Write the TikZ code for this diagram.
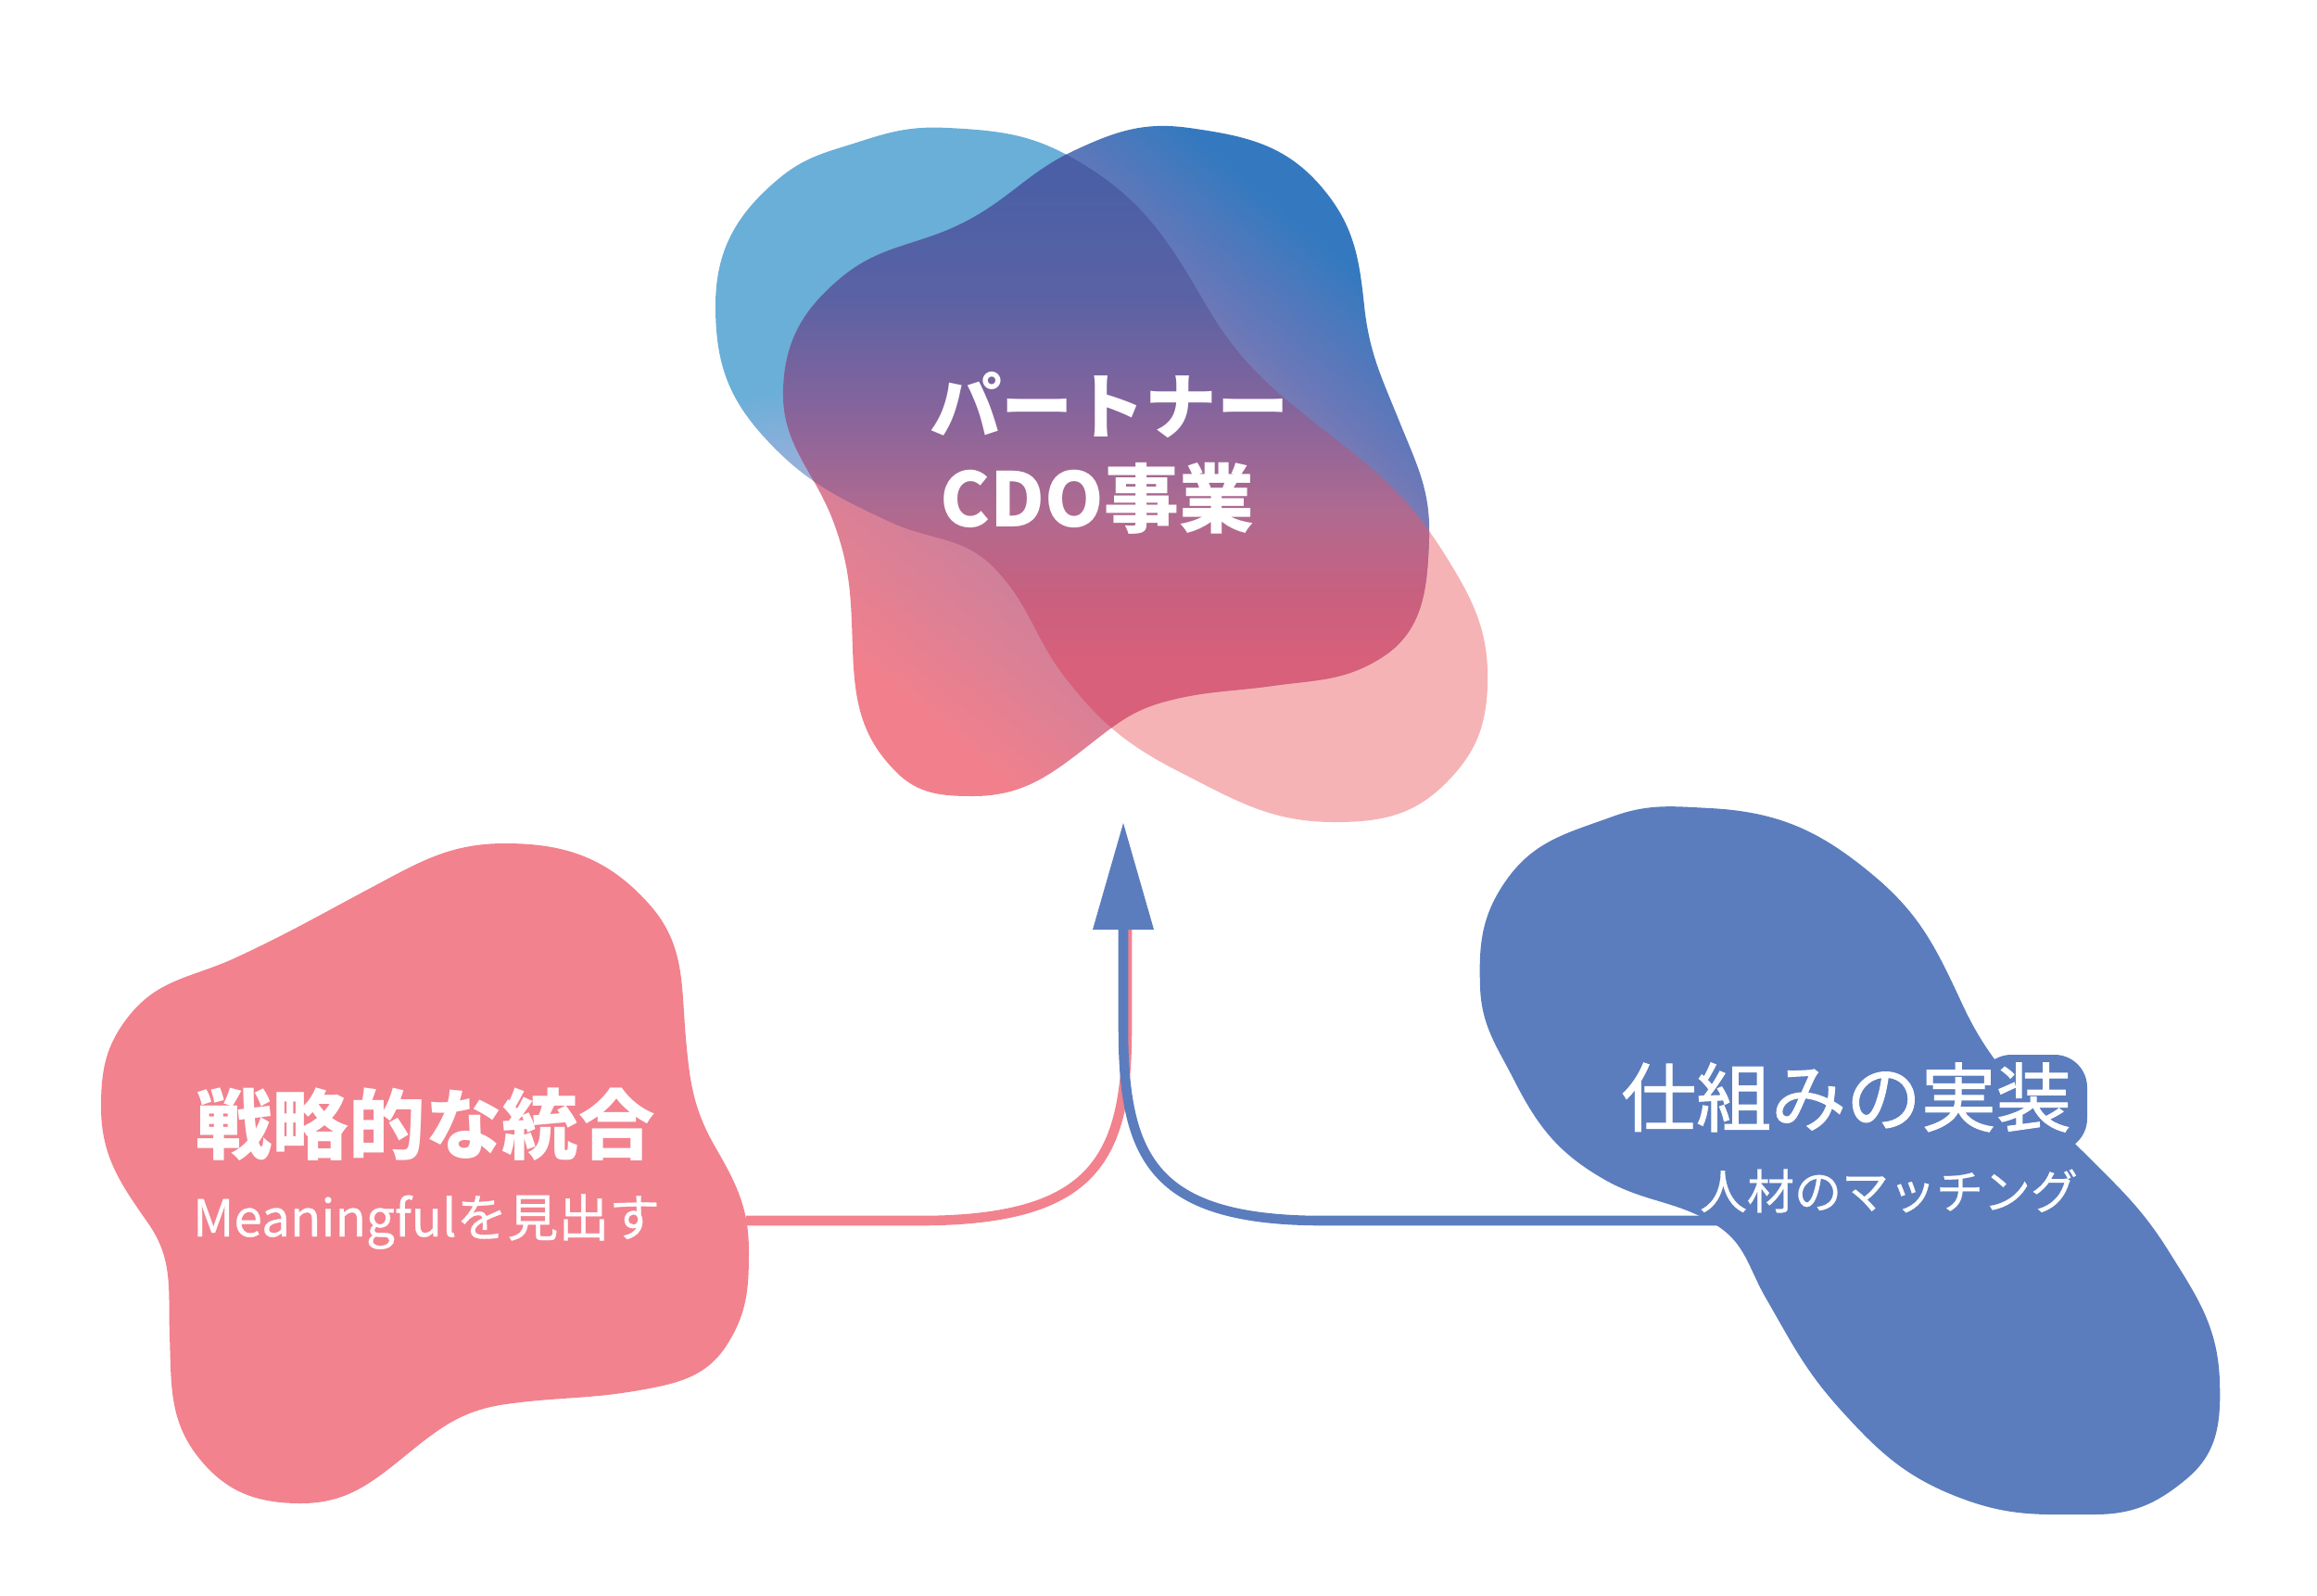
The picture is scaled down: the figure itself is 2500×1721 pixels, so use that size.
\documentclass[tikz,border=0pt]{standalone}
\usepackage{fontspec}
\setmainfont{Noto Sans CJK JP}
\newfontfamily\jpmedium{Noto Sans CJK JP}[FakeBold=1.2]
\newfontfamily\jpbook{Noto Sans CJK JP}[FakeBold=0.6]
\usetikzlibrary{arrows.meta}

\definecolor{blobpink}{HTML}{F2828E}
\definecolor{blobblue}{HTML}{5B7DBE}
\definecolor{skyblue}{HTML}{69AFD8}
\definecolor{palepink}{HTML}{F6B3B6}
\definecolor{lilac}{HTML}{A8B0DA}
\definecolor{deepblue}{HTML}{3479BF}
\definecolor{rosepink}{HTML}{F2808C}
\definecolor{mauve}{HTML}{9A80B0}

% blue blob: sky blue on top, pale pink below
\pgfdeclareverticalshading{skyfade}{100bp}{color(0bp)=(palepink); color(46bp)=(palepink);
  color(52bp)=(lilac); color(60bp)=(skyblue); color(100bp)=(skyblue)}
% pink blob: deep blue at the upper right, rose at the lower left
\pgfdeclareverticalshading{rosefade}{100bp}{color(0bp)=(rosepink); color(26bp)=(rosepink);
  color(57bp)=(mauve); color(64bp)=(rgb,255:red,106;green,120;blue,184); color(73bp)=(deepblue);
  color(100bp)=(deepblue)}
% where the two blobs overlap
\pgfdeclareverticalshading{mixfade}{100bp}{color(0bp)=(rgb,255:red,218;green,95;blue,120);
  color(35bp)=(rgb,255:red,216;green,96;blue,122); color(40bp)=(rgb,255:red,200;green,96;blue,127);
  color(46bp)=(rgb,255:red,176;green,106;blue,144); color(54bp)=(rgb,255:red,132;green,100;blue,156);
  color(62bp)=(rgb,255:red,90;green,98;blue,164); color(71bp)=(rgb,255:red,74;green,95;blue,166);
  color(100bp)=(rgb,255:red,70;green,92;blue,166)}

\newcommand{\blueblob}{(1023,138) to[out=357,in=150] (1160,172) to[out=330,in=120] (1300,327)
  to[out=300,in=142] (1440,473) to[out=322,in=122] (1560,600) to[out=302,in=88] (1605,740)
  to[out=268,in=45] (1560,845) to[out=225,in=0] (1440,887) to[out=180,in=333] (1273,833)
  to[out=153,in=308] (1150,732) to[out=128,in=314] (1073,613) to[out=134,in=335] (960,563)
  to[out=155,in=312] (823,470) to[out=132,in=270] (772,330) to[out=90,in=220] (840,193)
  to[out=40,in=198] (930,152) to[out=18,in=177] (1023,138) -- cycle}
\newcommand{\pinkblob}{(1283,138) to[out=352,in=130] (1427,203) to[out=310,in=96] (1472,330)
  to[out=276,in=112] (1510,455) to[out=292,in=88] (1542,580) to[out=268,in=32] (1490,710)
  to[out=212,in=8] (1373,740) to[out=188,in=15] (1257,757) to[out=195,in=38] (1180,800)
  to[out=218,in=0] (1050,859) to[out=180,in=315] (967,833) to[out=135,in=272] (920,700)
  to[out=92,in=290] (900,565) to[out=110,in=268] (845,420) to[out=88,in=220] (907,300)
  to[out=40,in=207] (1040,240) to[out=27,in=205] (1160,162) to[out=25,in=172] (1283,138) -- cycle}

\tikzset{
  bigbold/.style={text=white,inner sep=0pt,font=\fontsize{22}{26}\selectfont\bfseries},
  bigmedium/.style={text=white,inner sep=0pt,font=\fontsize{23}{27}\selectfont\jpmedium},
  smalltext/.style={text=white,inner sep=0pt,font=\fontsize{14.5}{17}\selectfont\jpbook},
  link/.style={line width=3pt}
}

\begin{document}
\begin{tikzpicture}[x=0.01cm,y=-0.01cm]
\useasboundingbox (0,0) rectangle (2500,1721);

% top pair of blobs
\shade[shading=skyfade,shading angle=10] \blueblob;
\shade[shading=rosefade,shading angle=-40] \pinkblob;
\begin{scope}
  \clip \blueblob;
  \shade[shading=mixfade] \pinkblob;
\end{scope}

% left blob
\fill[blobpink] (545,910) to[out=0,in=132] (700,975) to[out=312,in=95] (740,1120)
  to[out=275,in=120] (772,1238) to[out=300,in=90] (808,1350) to[out=270,in=58] (785,1450)
  to[out=238,in=10] (690,1500) to[out=190,in=8] (546,1515) to[out=188,in=39] (443,1566)
  to[out=219,in=0] (325,1622) to[out=180,in=310] (217,1576) to[out=130,in=272] (183,1440)
  to[out=92,in=305] (160,1320) to[out=125,in=270] (109,1194) to[out=90,in=231] (140,1095)
  to[out=51,in=205] (255,1033) to[out=25,in=208] (400,958) to[out=28,in=180] (545,910) -- cycle;

% right blob
\fill[blobblue] (1845,872) to[out=357,in=140] (2022,945) to[out=320,in=115] (2118,1085)
  to[out=295,in=135] (2250,1245) to[out=315,in=122] (2340,1350) to[out=302,in=92] (2395,1490)
  to[out=272,in=40] (2360,1595) to[out=220,in=0] (2260,1634) to[out=180,in=340] (2120,1618)
  to[out=160,in=312] (1985,1520) to[out=132,in=300] (1905,1400) to[out=120,in=328] (1852,1322)
  to[out=148,in=330] (1730,1272) to[out=150,in=297] (1634,1166) to[out=117,in=272] (1597,1065)
  to[out=92,in=235] (1625,950) to[out=55,in=200] (1740,881) to[out=20,in=177] (1845,872) -- cycle;
\fill[blobblue,rounded corners=10] (2135,1138) rectangle (2252,1242);

% connectors
\coordinate (lout) at (805,1317);
\coordinate (rout) at (1855,1317);
\coordinate (tip) at (1212,887);
\draw[link,blobpink] (lout) -- (1000,1317) .. controls (1180,1315) and (1216,1250) .. (1216,1110) -- (1216,1003);
\draw[link,blobblue,-{Triangle[length=1.16cm,width=0.63cm]}] (rout) -- (1420,1317)
  .. controls (1245,1315) and (1212,1250) .. (1212,1110) -- (tip);

% texts
\node[bigbold] (partner) at (1197,437) {パートナー};
\node[bigbold,font=\fontsize{23}{27}\selectfont\bfseries] (cdo) at (1184,538) {CDO事業};
\node[bigbold,font=\fontsize{23.5}{27}\selectfont\bfseries] (strategy) at (459,1213) {戦略的な統合};
\node[smalltext,font=\fontsize{15.6}{18}\selectfont\jpbook] (meaning) at (460,1318) {Meaningfulを見出す};
\node[bigmedium] (mechanism) at (1992,1184) {仕組みの実装};
\node[smalltext] (matching) at (2038,1285) {人材のマッチング};
\end{tikzpicture}
\end{document}
